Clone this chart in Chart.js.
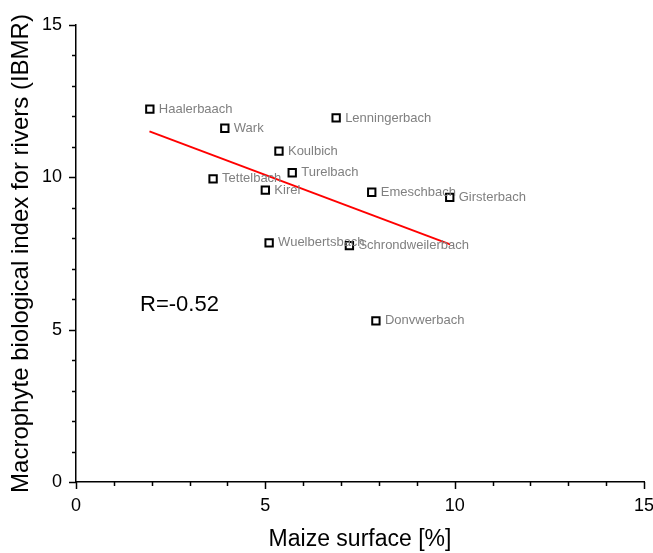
<!DOCTYPE html>
<html>
<head>
<meta charset="utf-8">
<title>IBMR vs maize surface</title>
<script src="https://cdn.jsdelivr.net/npm/chart.js@4.4.1/dist/chart.umd.min.js"></script>
<style>
  html, body { margin: 0; padding: 0; background: #fff; }
  canvas { display: block; }
</style>
</head>
<body>
<canvas id="ibmrChart" width="653" height="553"></canvas>
<script>
// Werte
const streams = ['Haalerbaach', 'Wark', 'Lenningerbach', 'Koulbich', 'Turelbach', 'Tettelbach',
                 'Kirel', 'Emeschbach', 'Girsterbach', 'Wuelbertsbach', 'Schrondweilerbach', 'Donvwerbach'];
const maizeSurface = [1.95, 3.93, 6.87, 5.36, 5.71, 3.62, 5.00, 7.81, 9.87, 5.10, 7.22, 7.92];
const ibmrValues   = [12.24, 11.61, 11.95, 10.86, 10.15, 9.95, 9.58, 9.51, 9.34, 7.85, 7.76, 5.29];

// Regressionsgerade (Endpunkte)
const fitX = [1.94, 9.88];
const fitY = [11.51, 7.80];

const axisTicks = [0, 5, 10, 15];
const rText = 'R=-0.52';

const fontFamily = '"Liberation Sans", Arial, sans-serif';

// Beschriftungen der Punkte, Tickstriche und R-Wert
const extrasPlugin = {
    id: 'extras',
    afterDatasetsDraw(chart) {
        const ctx = chart.ctx;
        const xs = chart.scales.x;
        const ys = chart.scales.y;

        ctx.save();
        ctx.font = '13px ' + fontFamily;
        ctx.fillStyle = '#808080';
        ctx.textBaseline = 'middle';
        ctx.textAlign = 'left';
        streams.forEach((name, i) => {
            ctx.fillText(name, xs.getPixelForValue(maizeSurface[i]) + 9, ys.getPixelForValue(ibmrValues[i]));
        });

        // Tickstriche nach außen
        ctx.strokeStyle = '#000';
        ctx.lineWidth = 1.5;
        for (let v = 0; v <= 15; v++) {
            const len = axisTicks.includes(v) ? 7 : 4;
            const px = Math.round(xs.getPixelForValue(v)) + 0.5;
            ctx.beginPath();
            ctx.moveTo(px, xs.top);
            ctx.lineTo(px, xs.top + len);
            ctx.stroke();
            const py = Math.round(ys.getPixelForValue(v)) + 0.5;
            ctx.beginPath();
            ctx.moveTo(ys.right, py);
            ctx.lineTo(ys.right - len, py);
            ctx.stroke();
        }

        ctx.font = '22px ' + fontFamily;
        ctx.fillStyle = '#000';
        ctx.fillText(rText, xs.getPixelForValue(1.69), ys.getPixelForValue(5.8));
        ctx.restore();
    }
};

const ctx = document.getElementById('ibmrChart').getContext('2d');
new Chart(ctx, {
    type: 'scatter',
    data: {
        datasets: [
            {
                label: 'Fit',
                type: 'line',
                data: fitX.map((x, i) => ({ x: x, y: fitY[i] })),
                borderColor: '#ff0000',
                borderWidth: 2,
                pointRadius: 0,
                fill: false,
                order: 2
            },
            {
                label: 'IBMR',
                data: maizeSurface.map((x, i) => ({ x: x, y: ibmrValues[i] })),
                pointStyle: 'rect',
                pointRadius: 5.2,
                borderColor: '#000',
                borderWidth: 2,
                backgroundColor: '#fff',
                order: 1
            }
        ]
    },
    options: {
        responsive: false,
        animation: false,
        layout: { padding: { top: 25, right: 9, left: 0, bottom: 0 } },
        plugins: {
            legend: { display: false },
            tooltip: { enabled: false }
        },
        scales: {
            x: {
                type: 'linear',
                min: 0, max: 15,
                grid: { display: false, drawTicks: false },
                border: { display: true, color: '#000', width: 1.5 },
                ticks: {
                    stepSize: 1,
                    autoSkip: false,
                    maxRotation: 0,
                    padding: 13,
                    color: '#000',
                    font: { size: 18, family: fontFamily },
                    callback: (v) => axisTicks.includes(v) ? v : ''
                },
                title: {
                    display: true,
                    text: 'Maize surface [%]',
                    color: '#000',
                    font: { size: 23, family: fontFamily },
                    padding: { top: 0, bottom: 0 }
                },
                afterFit: (s) => { s.height = 71; s.paddingLeft = 0; s.paddingRight = 0; }
            },
            y: {
                type: 'linear',
                min: 0, max: 15,
                grid: { display: false, drawTicks: false },
                border: { display: true, color: '#000', width: 1.5 },
                ticks: {
                    stepSize: 1,
                    autoSkip: false,
                    padding: 14,
                    color: '#000',
                    font: { size: 18, family: fontFamily },
                    callback: (v) => axisTicks.includes(v) ? v : ''
                },
                title: {
                    display: true,
                    text: 'Macrophyte biological index for rivers (IBMR)',
                    color: '#000',
                    font: { size: 24, family: fontFamily },
                    padding: { top: 7, bottom: 0 }
                },
                afterFit: (s) => { s.width = 76; s.paddingTop = 0; s.paddingBottom = 0; }
            }
        }
    },
    plugins: [extrasPlugin]
});
</script>
</body>
</html>
